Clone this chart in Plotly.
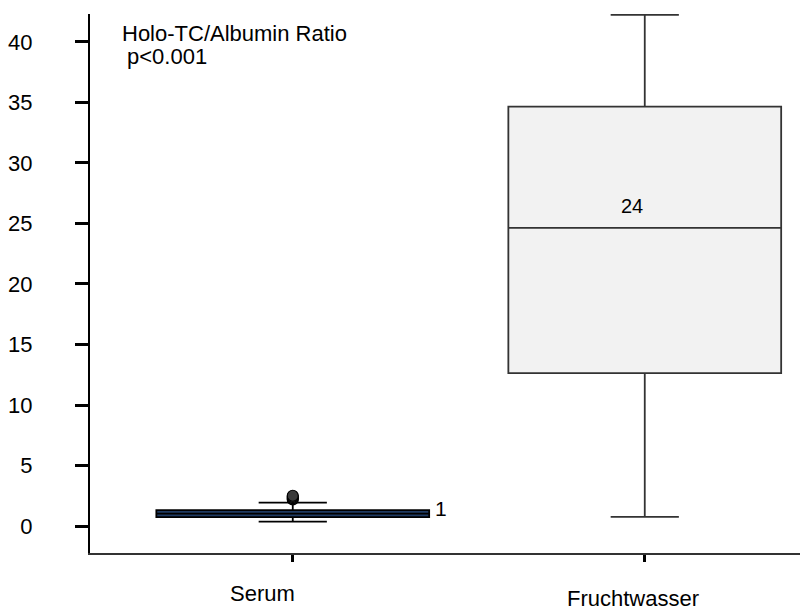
import plotly.graph_objects as go

# Data
categories = ["Serum", "Fruchtwasser"]
positions = [0, 1]
q1_vals = [0.74, 12.64]
median_vals = [1.03, 24.63]
q3_vals = [1.32, 34.65]
lower_fence = [0.36, 0.75]
upper_fence = [1.93, 42.23]
median_labels = ["1", "24"]
serum_outliers = [2.2, 2.3, 2.4, 2.5]
y_tick_vals = [0, 5, 10, 15, 20, 25, 30, 35, 40]

FONT = "Liberation Sans, Arial, sans-serif"

fig = go.Figure()

fills = ["#1f3b63", "#f2f2f2"]
lines = ["#000000", "#333333"]
for i in range(2):
    fig.add_trace(go.Box(
        x=[positions[i]],
        q1=[q1_vals[i]], median=[median_vals[i]], q3=[q3_vals[i]],
        lowerfence=[lower_fence[i]], upperfence=[upper_fence[i]],
        width=0.775, whiskerwidth=0.25,
        fillcolor=fills[i],
        line=dict(color=lines[i], width=1.8),
        boxpoints=False, showlegend=False, hoverinfo="skip",
    ))

fig.add_trace(go.Scatter(
    x=[positions[0]] * len(serum_outliers), y=serum_outliers,
    mode="markers",
    marker=dict(symbol="circle", size=11, color="#3a3a3a",
                line=dict(color="black", width=1.2)),
    showlegend=False, hoverinfo="skip",
))

annotations = [
    dict(text="Holo-TC/Albumin Ratio", xref="paper", yref="paper",
         x=0.0423, y=0.963, xanchor="left", yanchor="middle", showarrow=False,
         font=dict(family=FONT, size=22, color="black")),
    dict(text="p<0.001", xref="paper", yref="paper",
         x=0.0493, y=0.922, xanchor="left", yanchor="middle", showarrow=False,
         font=dict(family=FONT, size=22, color="black")),
    dict(text=median_labels[0], xref="x", yref="y",
         x=positions[0] + 0.399, y=median_vals[0], xanchor="left", yanchor="middle",
         yshift=5, showarrow=False, font=dict(family=FONT, size=21, color="black")),
    dict(text=median_labels[1], xref="x", yref="y",
         x=positions[1] - 0.035, y=median_vals[1], xanchor="center", yanchor="middle",
         yshift=22, showarrow=False, font=dict(family=FONT, size=20, color="black")),
    dict(text=categories[0], xref="x", yref="paper",
         x=positions[0] - 0.086, y=-0.0755, xanchor="center", yanchor="middle",
         showarrow=False, font=dict(family=FONT, size=22, color="black")),
    dict(text=categories[1], xref="x", yref="paper",
         x=positions[1] - 0.034, y=-0.0853, xanchor="center", yanchor="middle",
         showarrow=False, font=dict(family=FONT, size=22, color="black")),
]

fig.update_layout(
    width=804, height=612,
    margin=dict(l=90, r=4, t=14, b=59),
    paper_bgcolor="white", plot_bgcolor="white",
    font=dict(family=FONT, size=22, color="black"),
    annotations=annotations,
    xaxis=dict(
        range=[-0.576, 1.441], tickvals=positions, ticktext=["", ""],
        showgrid=False, zeroline=False, showline=True, linecolor="#333333",
        linewidth=2, ticks="outside", ticklen=7, tickwidth=3, tickcolor="black",
        fixedrange=True,
    ),
    yaxis=dict(
        range=[-2.23, 42.31], tickvals=y_tick_vals,
        showgrid=False, zeroline=False, showline=True, linecolor="black",
        linewidth=2, ticks="outside", ticklen=13, tickwidth=3, tickcolor="black",
        ticklabelstandoff=38, tickfont=dict(family=FONT, size=22, color="black"),
        fixedrange=True,
    ),
)

fig.write_html("out.html")
